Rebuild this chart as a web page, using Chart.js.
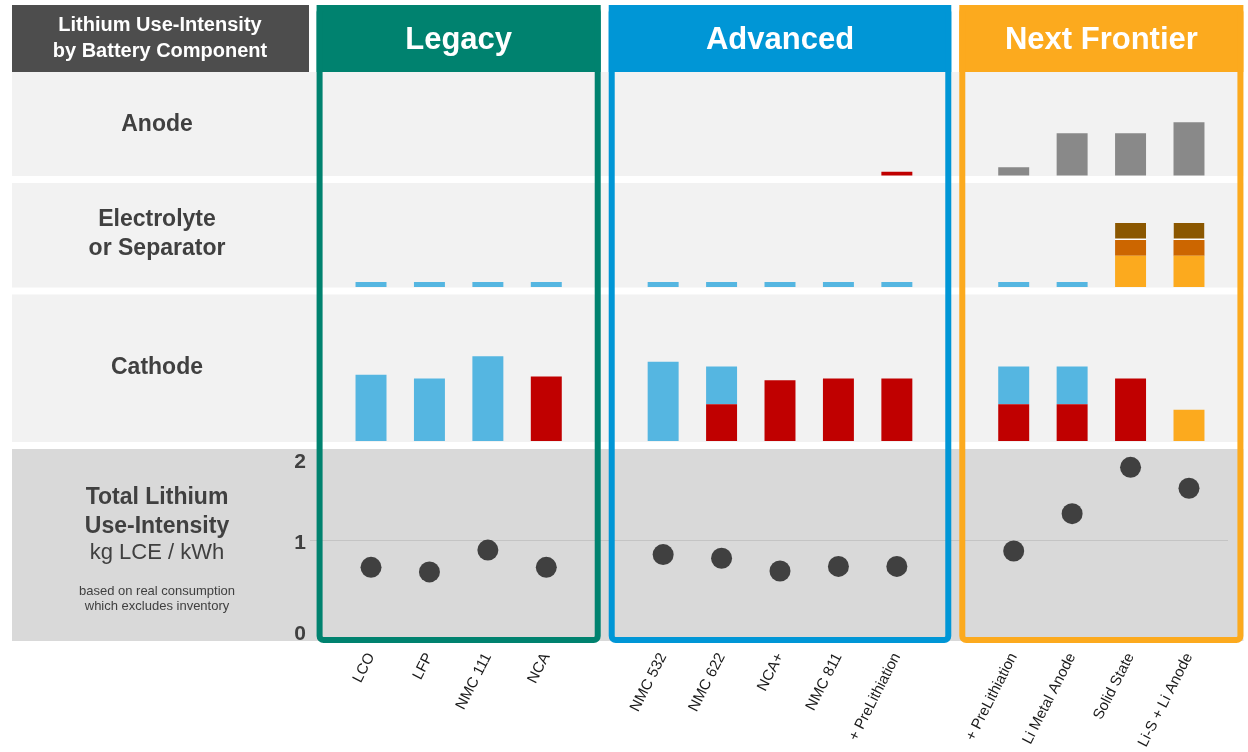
<!DOCTYPE html>
<html>
<head>
<meta charset="utf-8">
<script src="https://cdn.jsdelivr.net/npm/chart.js@4.4.1/dist/chart.umd.min.js"></script>
<style>
html,body{margin:0;padding:0;background:#fff;}
#wrap{width:1248px;height:752px;position:relative;}
</style>
</head>
<body>
<div id="wrap"><canvas id="c" width="1248" height="752"></canvas></div>
<script>
// ---------- DATA ----------
const categories = ['LCO','LFP','NMC 111','NCA','','NMC 532','NMC 622','NCA+','NMC 811','+ PreLithiation','','+ PreLithiation','Li Metal Anode','Solid State','Li-S + Li Anode'];

// Anode (kg LCE / kWh)
const anodePreLith = [null,null,null,null,null, null,null,null,null,0.04, null, null,null,null,null];
const anodeLiMetal = [null,null,null,null,null, null,null,null,null,null, null, 0.09,0.46,0.46,0.58];

// Electrolyte or Separator
const elecStandard  = [0.055,0.055,0.055,0.055,null, 0.055,0.055,0.055,0.055,0.055, null, 0.055,0.055,null,null];
const elecSolidA    = [null,null,null,null,null, null,null,null,null,null, null, null,null,0.34,0.34];
const elecSolidB    = [null,null,null,null,null, null,null,null,null,null, null, null,null,0.17,0.17];
const elecSolidC    = [null,null,null,null,null, null,null,null,null,null, null, null,null,0.185,0.185];

// Cathode
const cathodeLiRich = [null,null,null,0.70,null, null,0.40,0.66,0.68,0.68, null, 0.40,0.40,0.68,null];
const cathodeStd    = [0.72,0.68,0.92,null,null, 0.86,0.41,null,null,null, null, 0.41,0.41,null,null];
const cathodeSulfur = [null,null,null,null,null, null,null,null,null,null, null, null,null,null,0.34];

// Total Lithium Use-Intensity
const totalIntensity = [0.70,0.65,0.89,0.70,null, 0.84,0.80,0.66,0.71,0.71, null, 0.88,1.29,1.80,1.57];
const totalTicks = [0,1,2];

const groupNames  = ['Legacy','Advanced','Next Frontier'];
const groupFirst  = [0,5,11];
const groupLast   = [3,9,14];
const groupColors = ['#00826F','#0096D6','#FCAA1E'];

// ---------- STYLE ----------
const F = '"Liberation Sans", Arial, sans-serif';
const C_BLUE = '#55B6E1', C_RED = '#C00000', C_GRAY = '#898989';
const C_ORANGE = '#FCAA1E', C_DORANGE = '#CC6600', C_BROWN = '#8B5700';
const TXT = '#404040';
Chart.defaults.font.family = F;

function bar(data, color, axis, extra) {
  return Object.assign({
    type: 'bar', data, backgroundColor: color, yAxisID: axis, stack: axis,
    grouped: false, barPercentage: 0.53, categoryPercentage: 1, borderWidth: 0
  }, extra || {});
}

const decor = {
  id: 'decor',
  beforeDraw(chart) {
    const {ctx} = chart;
    const x = chart.scales.x;
    const right = x.getPixelForValue(categories.length) - 4;
    ctx.save();
    ctx.fillStyle = '#fff';
    ctx.fillRect(0, 0, chart.width, chart.height);
    const rows = ['yA','yE','yC','yT'];
    rows.forEach((id, i) => {
      const s = chart.scales[id];
      const top = s.top + (i === 0 ? 0 : 3.5);
      const bot = s.bottom - (i === rows.length - 1 ? 0 : 3.5);
      ctx.fillStyle = i === 3 ? '#D9D9D9' : '#F2F2F2';
      ctx.fillRect(12, top, right - 12, bot - top);
    });
    // gridline at 1
    const yT = chart.scales.yT;
    const gy = Math.round(yT.getPixelForValue(1)) + 0.5;
    ctx.strokeStyle = '#C4C4C4'; ctx.lineWidth = 1;
    ctx.beginPath(); ctx.moveTo(310, gy);
    ctx.lineTo(x.getPixelForValue(categories.length - 1) + 39, gy); ctx.stroke();

    // title box
    ctx.fillStyle = '#4D4D4D';
    ctx.fillRect(12, 5, 297, 67);
    ctx.fillStyle = '#fff';
    ctx.textAlign = 'center'; ctx.textBaseline = 'middle';
    ctx.font = 'bold 20px ' + F;
    ctx.fillText('Lithium Use-Intensity', 160, 25);
    ctx.fillText('by Battery Component', 160, 51);

    // row labels
    ctx.fillStyle = TXT;
    ctx.font = 'bold 23px ' + F;
    const sA = chart.scales.yA, sE = chart.scales.yE, sC = chart.scales.yC;
    ctx.fillText('Anode', 157, (sA.top + sA.bottom - 3.5) / 2 + 1);
    const ec = (sE.top + sE.bottom) / 2 - 1;
    ctx.fillText('Electrolyte', 157, ec - 14.5);
    ctx.fillText('or Separator', 157, ec + 14.5);
    ctx.fillText('Cathode', 157, (sC.top + sC.bottom) / 2 - 1);
    ctx.fillText('Total Lithium', 157, 498);
    ctx.fillText('Use-Intensity', 157, 527);
    ctx.font = '22px ' + F;
    ctx.fillText('kg LCE / kWh', 157, 553);
    ctx.font = '13px ' + F;
    ctx.fillText('based on real consumption', 157, 591);
    ctx.fillText('which excludes inventory', 157, 606);

    // total axis tick labels
    ctx.font = 'bold 21px ' + F;
    ctx.textAlign = 'right';
    totalTicks.forEach(v => {
      let y = yT.getPixelForValue(v) + 3;
      y = Math.max(y, yT.top + 3.5 + 13);
      ctx.fillText(String(v), 306, y);
    });
    ctx.restore();
  },
  afterDatasetsDraw(chart) {
    const {ctx} = chart;
    const x = chart.scales.x;
    ctx.save();
    groupNames.forEach((name, i) => {
      const left = x.getPixelForValue(groupFirst[i] - 1) + 4;
      const right = x.getPixelForValue(groupLast[i] + 1) - 4;
      const col = groupColors[i];
      ctx.fillStyle = col;
      ctx.fillRect(left, 5, right - left, 67);
      ctx.strokeStyle = col; ctx.lineWidth = 6;
      ctx.beginPath();
      ctx.roundRect(left + 3, 8, right - left - 6, 632, 4);
      ctx.stroke();
      ctx.fillStyle = '#fff';
      ctx.font = 'bold 31px ' + F;
      ctx.textAlign = 'center'; ctx.textBaseline = 'middle';
      ctx.fillText(name, (left + right) / 2, 40);
    });
    ctx.restore();
  }
};

new Chart(document.getElementById('c'), {
  type: 'bar',
  data: {
    labels: categories,
    datasets: [
      bar(anodePreLith, C_RED, 'yA'),
      bar(anodeLiMetal, C_GRAY, 'yA'),
      bar(elecStandard, C_BLUE, 'yE'),
      bar(elecSolidA, C_ORANGE, 'yE'),
      bar(elecSolidB, C_DORANGE, 'yE'),
      bar(elecSolidC, C_BROWN, 'yE', {borderWidth: {top: 0, left: 0, right: 0, bottom: 1.5}, borderColor: '#fff', borderSkipped: false}),
      bar(cathodeLiRich, C_RED, 'yC'),
      bar(cathodeStd, C_BLUE, 'yC'),
      bar(cathodeSulfur, C_ORANGE, 'yC'),
      {
        type: 'line', data: totalIntensity, yAxisID: 'yT', showLine: false,
        pointRadius: 10.5, pointHoverRadius: 10.5, pointBackgroundColor: '#404040',
        pointBorderWidth: 0, borderColor: '#404040'
      }
    ]
  },
  options: {
    responsive: false,
    animation: false,
    events: [],
    layout: {padding: {left: 341.8, right: 29.8, top: 72, bottom: 0}},
    plugins: {legend: {display: false}, tooltip: {enabled: false}},
    scales: {
      x: {
        type: 'category', offset: true,
        grid: {display: false}, border: {display: false},
        ticks: {autoSkip: false, minRotation: 63, maxRotation: 63, padding: 1, color: '#1a1a1a', font: {size: 15}},
        afterFit(s) { s.height = 111; }
      },
      yT: {position: 'left', stack: 'rows', stackWeight: 195.5, weight: 1, min: -0.11, max: 2.04, display: false},
      yC: {position: 'left', stack: 'rows', stackWeight: 154.5, weight: 2, min: -0.049, max: 1.63, stacked: true, display: false},
      yE: {position: 'left', stack: 'rows', stackWeight: 111.5, weight: 3, min: -0.043, max: 1.168, stacked: true, display: false},
      yA: {position: 'left', stack: 'rows', stackWeight: 107.5, weight: 4, min: -0.043, max: 1.125, stacked: true, display: false}
    }
  },
  plugins: [decor]
});
</script>
</body>
</html>
